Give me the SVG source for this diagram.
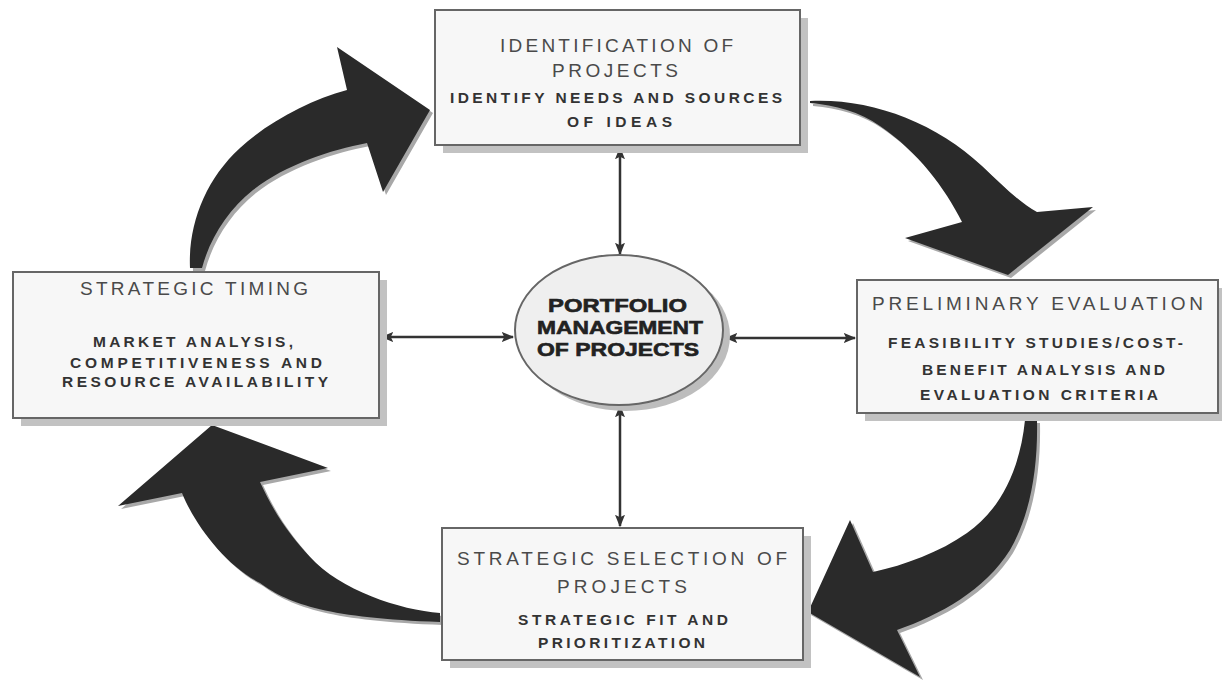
<svg xmlns="http://www.w3.org/2000/svg" xmlns:xlink="http://www.w3.org/1999/xlink" width="1222" height="683" viewBox="0 0 1222 683">
  <style>
    .box { fill: #f7f7f7; stroke: #666; stroke-width: 2; }
    .shadow { fill: #c2c2c2; }
    .title { font-family: "Liberation Sans", Arial, sans-serif; font-size: 19px; fill: #4a4a4a; }
    .sub { font-family: "Liberation Sans", Arial, sans-serif; font-size: 15.5px; font-weight: bold; fill: #333; }
    .hub { font-family: "Liberation Sans", Arial, sans-serif; font-size: 19px; font-weight: bold; fill: #222; stroke: #222; stroke-width: 0.6; }
    .link { stroke: #333; stroke-width: 2.5; fill: none; marker-start: url(#tip); marker-end: url(#tip); }
    .flow { fill: #2a2a2a; }
    .flow-shadow { fill: #a8a8a8; }
  </style>
  <defs>
    <marker id="tip" viewBox="0 0 10 10" refX="9" refY="5" markerWidth="5" markerHeight="5" orient="auto-start-reverse" markerUnits="strokeWidth">
      <path d="M0,1 L10,5 L0,9 L2,5 Z" fill="#333"/>
    </marker>
    <!-- cycle arrows, clockwise -->
    <path id="flowA" d="M190,268 C188,225 205,180 240,148 C268,122 310,100 347,90 L337,47 L430,110 L383,192 L367,143 C330,150 285,165 253,190 C228,210 210,238 202,268 Z"/>
    <path id="flowB" d="M810,101 C870,98 935,122 982,166 C1002,185 1020,203 1037,212 L1093,207 L1008,275 L905,238 L962,222 C945,188 918,152 880,126 C860,112 835,105 810,103 Z"/>
    <path id="flowC" d="M1025,420 C1020,470 1000,510 967,533 C940,552 905,565 873,572 L850,520 L808,612 L920,677 L897,630 C940,615 985,590 1010,550 C1030,515 1038,470 1037,420 Z"/>
    <path id="flowD" d="M440,613 C400,610 340,590 310,557 C290,535 275,515 260,482 L328,468 L212,425 L118,506 L182,493 C195,525 225,565 260,583 C290,605 330,618 440,622 Z"/>
  </defs>

  <rect width="1222" height="683" fill="#ffffff"/>

  <!-- cycle arrows between stages -->
  <g id="cycle">
    <use xlink:href="#flowA" class="flow-shadow" transform="translate(3,3)"/>
    <use xlink:href="#flowB" class="flow-shadow" transform="translate(3,3)"/>
    <use xlink:href="#flowC" class="flow-shadow" transform="translate(3,3)"/>
    <use xlink:href="#flowD" class="flow-shadow" transform="translate(3,3)"/>
    <use xlink:href="#flowA" class="flow"/>
    <use xlink:href="#flowB" class="flow"/>
    <use xlink:href="#flowC" class="flow"/>
    <use xlink:href="#flowD" class="flow"/>
  </g>

  <!-- two-way links to the hub -->
  <g id="connectors">
    <line class="link" x1="620" y1="148" x2="620" y2="254"/>
    <line class="link" x1="620" y1="406" x2="620" y2="526"/>
    <line class="link" x1="382" y1="337" x2="513" y2="337"/>
    <line class="link" x1="726" y1="338" x2="855" y2="338"/>
  </g>

  <g id="identification">
    <rect class="shadow" x="443" y="18" width="365" height="135"/>
    <rect class="box" x="435" y="10" width="365" height="135"/>
    <text class="title" x="500" y="52" textLength="233" lengthAdjust="spacing">IDENTIFICATION OF</text>
    <text class="title" x="552" y="77" textLength="126" lengthAdjust="spacing">PROJECTS</text>
    <text class="sub" x="450" y="103" textLength="332" lengthAdjust="spacing">IDENTIFY NEEDS AND SOURCES</text>
    <text class="sub" x="567" y="127" textLength="105" lengthAdjust="spacing">OF IDEAS</text>
  </g>

  <g id="timing">
    <rect class="shadow" x="21" y="280" width="366" height="146"/>
    <rect class="box" x="13" y="272" width="366" height="146"/>
    <text class="title" x="80" y="295" textLength="228" lengthAdjust="spacing">STRATEGIC TIMING</text>
    <text class="sub" x="93" y="347" textLength="200" lengthAdjust="spacing">MARKET ANALYSIS,</text>
    <text class="sub" x="70" y="368" textLength="252" lengthAdjust="spacing">COMPETITIVENESS AND</text>
    <text class="sub" x="62" y="387" textLength="266" lengthAdjust="spacing">RESOURCE AVAILABILITY</text>
  </g>

  <g id="evaluation">
    <rect class="shadow" x="865" y="288" width="361" height="133"/>
    <rect class="box" x="857" y="280" width="361" height="133"/>
    <text class="title" x="872" y="310" textLength="331" lengthAdjust="spacing">PRELIMINARY EVALUATION</text>
    <text class="sub" x="888" y="348" textLength="295" lengthAdjust="spacing">FEASIBILITY STUDIES/COST-</text>
    <text class="sub" x="922" y="375" textLength="243" lengthAdjust="spacing">BENEFIT ANALYSIS AND</text>
    <text class="sub" x="920" y="400" textLength="238" lengthAdjust="spacing">EVALUATION CRITERIA</text>
  </g>

  <g id="selection">
    <rect class="shadow" x="450" y="536" width="361" height="132"/>
    <rect class="box" x="442" y="528" width="361" height="132"/>
    <text class="title" x="457" y="565" textLength="330" lengthAdjust="spacing">STRATEGIC SELECTION OF</text>
    <text class="title" x="557" y="593" textLength="130" lengthAdjust="spacing">PROJECTS</text>
    <text class="sub" x="518" y="625" textLength="210" lengthAdjust="spacing">STRATEGIC FIT AND</text>
    <text class="sub" x="538" y="648" textLength="167" lengthAdjust="spacing">PRIORITIZATION</text>
  </g>

  <g id="portfolio">
    <ellipse cx="626" cy="336" rx="104" ry="75" fill="#bdbdbd"/>
    <ellipse cx="619" cy="330" rx="104" ry="75" fill="#efefef" stroke="#666" stroke-width="2"/>
    <text class="hub" x="548" y="312" textLength="139" lengthAdjust="spacingAndGlyphs">PORTFOLIO</text>
    <text class="hub" x="537" y="334" textLength="166" lengthAdjust="spacingAndGlyphs">MANAGEMENT</text>
    <text class="hub" x="537" y="356" textLength="162" lengthAdjust="spacingAndGlyphs">OF PROJECTS</text>
  </g>
</svg>
